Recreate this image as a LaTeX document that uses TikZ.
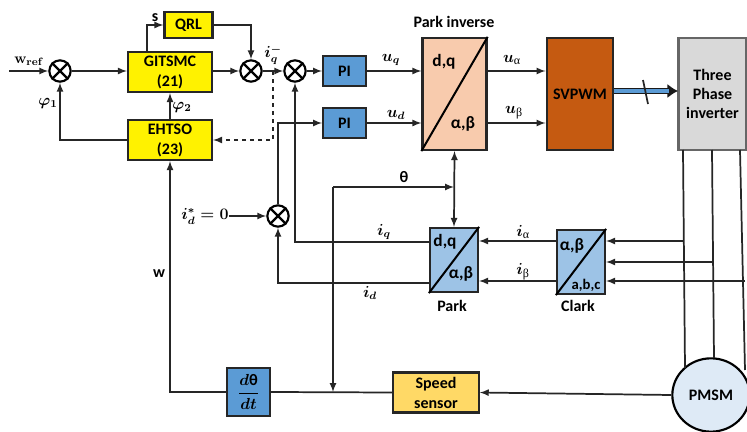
\documentclass[tikz,border=0pt]{standalone}
\usepackage[no-math]{fontspec}
\setmainfont{Carlito}
\newfontfamily\thinfont{Liberation Serif}
\usetikzlibrary{shapes.geometric,arrows.meta}
\newcommand{\thinsub}[1]{\mbox{\fontsize{9}{9}\selectfont\thinfont\mdseries #1}}
\definecolor{paleorange}{HTML}{F8CBAD}
\definecolor{rustbrown}{HTML}{C55A11}
\definecolor{midblue}{HTML}{5B9BD5}
\definecolor{softblue}{HTML}{9DC3E6}
\definecolor{gold}{HTML}{FFD966}
\definecolor{paleblue}{HTML}{DEEAF6}
\definecolor{panelgrey}{HTML}{D9D9D9}
\tikzset{>=latex,
  wire/.style={line width=1.3pt,black!85},
  blockbox/.style={draw=black!85,line width=1.7pt,inner sep=0pt,align=center,
    font=\fontsize{12}{15}\selectfont\bfseries\boldmath},
  sumjoin/.style={draw=black,line width=1.6pt,circle,minimum size=16pt,inner sep=0pt},
  lbl/.style={inner sep=0pt,font=\fontsize{12}{14}\selectfont\bfseries\boldmath},
  boxlbl/.style={inner sep=0pt,font=\fontsize{13}{15}\selectfont\bfseries}
}

\begin{document}
\begin{tikzpicture}[x=0.75pt,y=-0.75pt]
  \useasboundingbox (0,0) rectangle (747,432);

  % Control blocks
  \node[blockbox,fill=yellow,minimum width=36pt,minimum height=19pt] (QRL) at (188.5,25) {QRL};
  \node[blockbox,fill=yellow,minimum width=63pt,minimum height=30pt] (GITSMC) at (170,72) {GITSMC\\(21)};
  \node[blockbox,fill=yellow,minimum width=63pt,minimum height=30pt] (EHTSO) at (170,140) {EHTSO\\(23)};
  \node[blockbox,fill=midblue,minimum width=32pt,minimum height=22pt] (PIq) at (344.5,71) {PI};
  \node[blockbox,fill=midblue,minimum width=32pt,minimum height=22pt] (PId) at (344.5,123) {PI};
  \node[blockbox,fill=midblue,minimum width=32pt,minimum height=36pt] (Deriv) at (248.5,392) {$\displaystyle\frac{d\mbox{θ}}{dt}$};
  \node[blockbox,fill=gold,minimum width=64pt,minimum height=30pt] (Speed) at (436,392.5) {Speed\\sensor};

  % Summing joints
  \node[sumjoin] (SumW) at (60,71) {};
  \node[sumjoin] (SumQRL) at (251,71) {};
  \node[sumjoin] (SumQ) at (295,71) {};
  \node[sumjoin] (SumD) at (278,216) {};
  \foreach \s in {SumW,SumQRL,SumQ,SumD}
    \draw[line width=1.6pt] (\s.45) -- (\s.225) (\s.135) -- (\s.315);

  % Transforms
  \node[blockbox,fill=paleorange,minimum width=48pt,minimum height=84pt] (ParkInv) at (454.5,94) {};
  \node[blockbox,fill=softblue,minimum width=36pt,minimum height=48pt] (Park) at (454,260) {};
  \node[blockbox,fill=softblue,minimum width=36pt,minimum height=48pt] (Clark) at (581,262) {};
  \foreach \b in {ParkInv,Park,Clark}
    \draw[line width=1.5pt] (\b.south west) -- (\b.north east);
  \node[boxlbl] (ParkInvDq) at (444,62) {d,q};
  \node[boxlbl] (ParkInvAb) at (463,124) {α,β};
  \node[boxlbl] (ParkDq) at (445,242) {d,q};
  \node[boxlbl] (ParkAb) at (461,274) {α,β};
  \node[boxlbl] (ClarkAb) at (572,246) {α,β};
  \node[boxlbl,font=\fontsize{11}{13}\selectfont\bfseries] (ClarkAbc) at (586,285) {a,b,c};

  % Power stage
  \node[blockbox,fill=rustbrown,minimum width=50pt,minimum height=84pt] (SVPWM) at (580,94) {SVPWM};
  \node[blockbox,fill=panelgrey,draw=black!60,minimum width=51pt,minimum height=84pt,font=\fontsize{12}{14.5}\selectfont\bfseries] (Inverter) at (712.5,94) {Three\\Phase\\inverter};
  \node[ellipse,draw=black,line width=1.6pt,fill=paleblue,minimum width=58pt,minimum height=55pt,inner sep=0pt,font=\fontsize{12}{14}\selectfont\bfseries] (PMSM) at (711,395) {PMSM};

  % Free ends and taps
  \coordinate (wStart) at (9,71);
  \coordinate (sCorner) at (147,25);
  \coordinate (iqTap) at (273,71);
  \coordinate (thetaTap) at (333,392);
  \coordinate (thetaCorner) at (333,187);
  \coordinate (thetaEnd) at (454,187);
  \coordinate (tapA) at (683.5,241);
  \coordinate (tapB) at (713,262);
  \coordinate (tapC) at (745,281);
  \coordinate (invA) at (683,150);
  \coordinate (invB) at (712,150);
  \coordinate (invC) at (740,150);
  \coordinate (motorA) at (685,368);
  \coordinate (motorB) at (714,358);
  \coordinate (motorC) at (745,370);
  \coordinate (linkStart) at (614,91);
  \coordinate (linkEnd) at (669,91);
  \coordinate (linkTip) at (678,91);
  \coordinate (slashTop) at (643,80);
  \coordinate (slashBot) at (648,104);

  % Labels
  \node[lbl,font=\fontsize{11}{13}\selectfont\bfseries\boldmath] (wrefLbl) at (29,61) {$\mathbf{w_{ref}}$};
  \node[lbl] (phiOneLbl) at (48,103) {$\varphi_1$};
  \node[lbl] (phiTwoLbl) at (182,107) {$\varphi_2$};
  \node[lbl] (sLbl) at (155,18) {s};
  \node[lbl] (iqRefLbl) at (273,55) {$i_q^-$};
  \node[lbl] (uqLbl) at (391,60) {$u_q$};
  \node[lbl] (udLbl) at (396,115) {$u_d$};
  \node[lbl] (uaLbl) at (512,60) {$u_{\thinsub{α}}$};
  \node[lbl] (ubLbl) at (514,113) {$u_{\thinsub{β}}$};
  \node[lbl] (parkInvLbl) at (454,22) {Park inverse};
  \node[lbl] (thetaLbl) at (404,177) {θ};
  \node[lbl] (idRefLbl) at (205,216) {$i_d^*=0$};
  \node[lbl] (iqLbl) at (384,232) {$i_q$};
  \node[lbl] (idLbl) at (370,293) {$i_d$};
  \node[lbl] (wLbl) at (159,274) {w};
  \node[lbl] (iaLbl) at (523,232) {$i_{\thinsub{α}}$};
  \node[lbl] (ibLbl) at (523,272) {$i_{\thinsub{β}}$};
  \node[lbl] (parkLbl) at (452,306) {Park};
  \node[lbl] (clarkLbl) at (578,306) {Clark};

  % Outer loop
  \draw[wire,->] (wStart) -- (SumW.west);
  \draw[wire,->] (SumW.east) -- (GITSMC.west |- SumW.east);
  \draw[wire,->] (GITSMC.east |- SumQRL.west) -- (SumQRL.west);
  \draw[wire,->] (SumQRL.east) -- (SumQ.west);
  \draw[wire,->] (GITSMC.north -| sCorner) -- (sCorner) -- (QRL.west);
  \draw[wire,->] (QRL.east) -| (SumQRL.north);
  \draw[wire,->] (EHTSO.north) -- (GITSMC.south);
  \draw[wire,->] (EHTSO.west) -| (SumW.south);
  \draw[wire,dashed,->] (iqTap) |- (EHTSO.east);

  % Current loops
  \draw[wire,->] (SumQ.east) -- (PIq.west);
  \draw[wire,->] (SumD.north) |- (PId.west);
  \draw[wire,->] (idRefLbl.east) -- (SumD.west);
  \draw[wire,->] (PIq.east) -- (ParkInv.west |- PIq.east);
  \draw[wire,->] (PId.east) -- (ParkInv.west |- PId.east);
  \draw[wire,->] (ParkInv.east |- PIq.east) -- (SVPWM.west |- PIq.east);
  \draw[wire,->] (ParkInv.east |- PId.east) -- (SVPWM.west |- PId.east);
  \draw[wire,->] (Park.west |- 0,242) -| (SumQ.south);
  \draw[wire,->] (Park.west |- 0,283) -| (SumD.south);
  \draw[wire,->] (Clark.west |- tapA) -- (Park.east |- tapA);
  \draw[wire,->] (Clark.west |- tapC) -- (Park.east |- tapC);

  % Angle and speed
  \draw[wire,->] (thetaCorner) -- (thetaTap);
  \draw[wire,->] (thetaCorner) -- (thetaEnd);
  \draw[wire,<->] (ParkInv.south) -- (Park.north);
  \draw[wire] (Speed.west) -- (Deriv.east);
  \draw[wire,->] (Deriv.west) -| (EHTSO.south);
  \draw[wire,->] (PMSM.west) -- (Speed.east);

  % Phases
  \draw[wire] (invA) -- (motorA);
  \draw[wire] (invB) -- (motorB);
  \draw[wire] (invC) -- (motorC);
  \draw[wire,->] (tapA) -- (Clark.east |- tapA);
  \draw[wire,->] (tapB) -- (Clark.east |- tapB);
  \draw[wire,->] (tapC) -- (Clark.east |- tapC);

  % Thick link
  \draw[line width=5pt,black!90,-{Latex[length=8pt,width=11pt]}] (linkStart) -- (linkTip);
  \draw[line width=2.5pt,midblue] (linkStart) -- (linkEnd);
  \draw[wire] (slashTop) -- (slashBot);
\end{tikzpicture}
\end{document}
